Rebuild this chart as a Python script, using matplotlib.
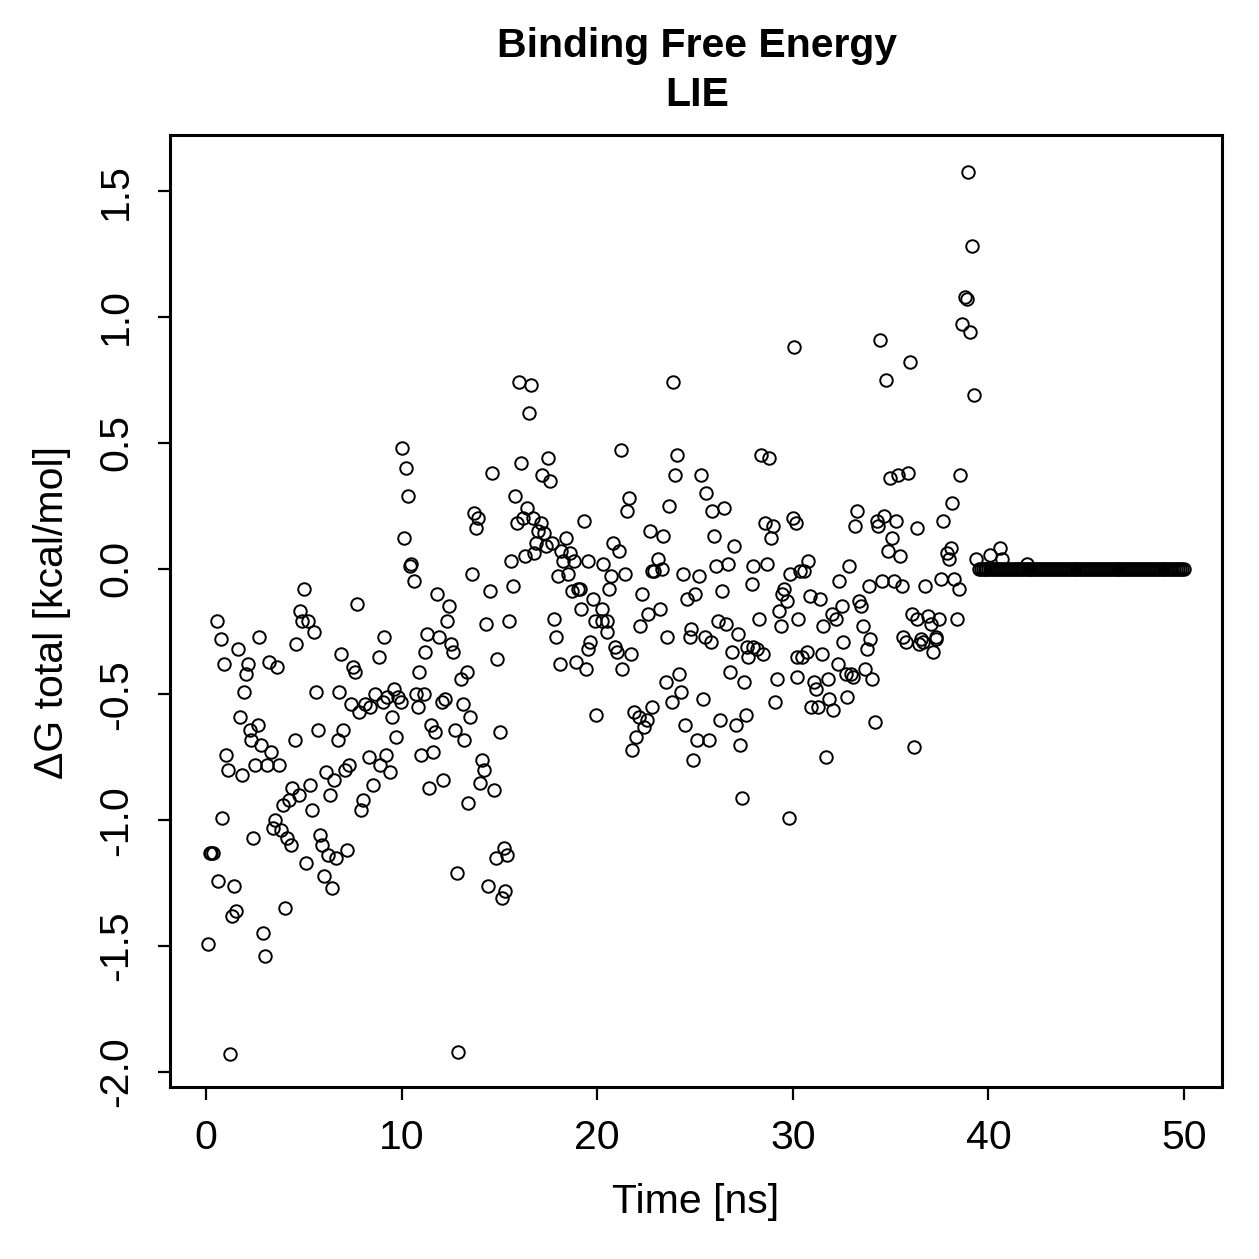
import matplotlib
matplotlib.use("Agg")
import matplotlib.pyplot as plt

plt.rcParams["font.family"] = ["Liberation Sans", "DejaVu Sans"]

# scattered part of the trajectory (time in ns, dG in kcal/mol)
time_ns = [
    0.10, 0.20, 0.28, 0.36, 0.55, 0.63, 0.75, 0.83, 0.94, 1.04,
    1.14, 1.24, 1.33, 1.43, 1.55, 1.64, 1.74, 1.83, 1.94, 2.03,
    2.13, 2.25, 2.32, 2.42, 2.52, 2.64, 2.72, 2.80, 2.93, 3.03,
    3.12, 3.22, 3.32, 3.43, 3.53, 3.65, 3.73, 3.82, 3.94, 4.02,
    4.13, 4.23, 4.33, 4.41, 4.53, 4.60, 4.74, 4.82, 4.91, 5.01,
    5.13, 5.21, 5.33, 5.43, 5.52, 5.62, 5.73, 5.83, 5.95, 6.03,
    6.12, 6.22, 6.32, 6.43, 6.53, 6.63, 6.73, 6.81, 6.92, 7.02,
    7.11, 7.22, 7.33, 7.43, 7.52, 7.60, 7.70, 7.84, 7.92, 8.03,
    8.13, 8.33, 8.40, 8.52, 8.64, 8.83, 8.91, 9.03, 9.12, 9.22,
    9.27, 9.42, 9.52, 9.61, 9.70, 9.83, 9.96, 10.02,
    10.11, 10.22, 10.31, 10.43, 10.48, 10.62, 10.74, 10.82, 10.90, 11.01,
    11.15, 11.21, 11.31, 11.42, 11.50, 11.62, 11.73, 11.81, 11.91, 12.05,
    12.12, 12.22, 12.31, 12.41, 12.53, 12.61, 12.71, 12.82, 12.88, 13.02,
    13.12, 13.21, 13.33, 13.41, 13.51, 13.60, 13.70, 13.80, 13.91, 14.01,
    14.11, 14.23, 14.31, 14.40, 14.50, 14.61, 14.72, 14.81, 14.89, 15.02,
    15.12, 15.22, 15.30, 15.40, 15.51, 15.61, 15.71, 15.80, 15.90, 15.99,
    16.10, 16.19, 16.29, 16.40, 16.50, 16.62, 16.70, 16.78, 16.86, 16.99,
    17.13, 17.19, 17.30, 17.40, 17.50, 17.60, 17.69, 17.79, 17.89, 18.00,
    18.10, 18.16, 18.25, 18.40, 18.51, 18.62, 18.70, 18.83, 18.90, 19.00,
    19.14, 19.19, 19.31, 19.41, 19.51, 19.55, 19.63, 19.79, 19.89, 19.92,
    20.23, 20.26, 20.30, 20.49, 20.52, 20.60, 20.71, 20.79, 20.91, 21.00,
    21.11, 21.20, 21.28, 21.41, 21.51, 21.61, 21.71, 21.79, 21.88, 22.00,
    22.12, 22.19, 22.29, 22.38, 22.53, 22.60, 22.70, 22.79, 22.79, 22.92,
    23.09, 23.20, 23.30, 23.38, 23.52, 23.58, 23.69, 23.81, 23.89, 23.99,
    24.08, 24.20, 24.30, 24.39, 24.50, 24.59, 24.73, 24.80, 24.88, 25.00,
    25.09, 25.19, 25.29, 25.39, 25.51, 25.58, 25.70, 25.80, 25.88, 25.99,
    26.09, 26.18, 26.29, 26.38, 26.48, 26.60, 26.70, 26.79, 26.88, 26.98,
    27.10, 27.20, 27.29, 27.39, 27.49, 27.59, 27.67, 27.69, 27.90, 27.98,
    27.98, 28.15, 28.29, 28.36, 28.46, 28.56, 28.68, 28.80, 28.89, 28.99,
    29.09, 29.19, 29.29, 29.38, 29.46, 29.55, 29.69, 29.79, 29.86, 29.99,
    30.06, 30.16, 30.20, 30.20, 30.28, 30.37, 30.49, 30.57, 30.71, 30.79,
    30.88, 30.92, 31.08, 31.19, 31.30, 31.39, 31.48, 31.56, 31.68, 31.78,
    31.87, 31.99, 32.07, 32.19, 32.30, 32.38, 32.50, 32.58, 32.70, 32.77,
    32.87, 32.96, 33.09, 33.16, 33.28, 33.38, 33.49, 33.57, 33.68, 33.78,
    33.88, 33.96, 34.06, 34.19, 34.29, 34.37, 34.47, 34.58, 34.68, 34.78,
    34.87, 34.95, 35.07, 35.19, 35.28, 35.38, 35.48, 35.58, 35.65, 35.77,
    35.89, 35.98, 36.08, 36.18, 36.33, 36.37, 36.46, 36.54, 36.64, 36.77,
    36.93, 37.07, 37.15, 37.31, 37.34, 37.47, 37.58, 37.66, 37.87, 37.99,
    38.09, 38.15, 38.26, 38.38, 38.48, 38.56, 38.65, 38.80, 38.89, 38.96,
    39.08, 39.16, 39.26, 39.37, 40.10, 40.59, 40.68, 41.96,
]
dg_total = [
    -1.49, -1.13, -1.13, -1.13, -0.21, -1.24, -0.28, -0.99, -0.38, -0.74,
    -0.80, -1.93, -1.38, -1.26, -1.36, -0.32, -0.59, -0.82, -0.49, -0.42,
    -0.38, -0.64, -0.68, -1.07, -0.78, -0.62, -0.27, -0.70, -1.45, -1.54,
    -0.78, -0.37, -0.73, -1.03, -1.00, -0.39, -0.78, -1.04, -0.94, -1.35,
    -1.07, -0.92, -1.10, -0.87, -0.68, -0.30, -0.90, -0.17, -0.21, -0.08,
    -1.17, -0.21, -0.86, -0.96, -0.25, -0.49, -0.64, -1.06, -1.10, -1.22,
    -0.81, -1.14, -0.90, -1.27, -0.84, -1.15, -0.68, -0.49, -0.34, -0.64,
    -0.80, -1.12, -0.78, -0.54, -0.39, -0.41, -0.14, -0.57, -0.96, -0.92,
    -0.54, -0.75, -0.55, -0.86, -0.50, -0.35, -0.78, -0.53, -0.27, -0.74,
    -0.51, -0.81, -0.59, -0.48, -0.67, -0.51, -0.53, 0.48,
    0.12, 0.40, 0.29, 0.01, 0.02, -0.05, -0.50, -0.55, -0.41, -0.74,
    -0.50, -0.33, -0.26, -0.87, -0.62, -0.73, -0.65, -0.10, -0.27, -0.53,
    -0.84, -0.52, -0.21, -0.15, -0.30, -0.33, -0.64, -1.21, -1.92, -0.44,
    -0.54, -0.68, -0.41, -0.93, -0.59, -0.02, 0.22, 0.16, 0.20, -0.85,
    -0.76, -0.80, -0.22, -1.26, -0.09, 0.38, -0.88, -1.15, -0.36, -0.65,
    -1.31, -1.11, -1.28, -1.14, -0.21, 0.03, -0.07, 0.29, 0.18, 0.74,
    0.42, 0.20, 0.05, 0.24, 0.62, 0.73, 0.20, 0.06, 0.10, 0.15,
    0.18, 0.37, 0.14, 0.09, 0.44, 0.35, 0.10, -0.20, -0.27, -0.03,
    -0.38, 0.07, 0.03, 0.12, -0.02, 0.06, -0.09, 0.03, -0.37, -0.08,
    -0.08, -0.16, 0.19, -0.40, 0.03, -0.32, -0.29, -0.12, -0.21, -0.58,
    -0.16, -0.21, 0.02, -0.21, -0.25, -0.08, -0.03, 0.10, -0.31, -0.33,
    0.07, 0.47, -0.40, -0.02, 0.23, 0.28, -0.34, -0.72, -0.57, -0.67,
    -0.59, -0.23, -0.10, -0.63, -0.60, -0.18, 0.15, -0.55, -0.01, -0.01,
    0.04, -0.16, 0.00, 0.13, -0.45, -0.27, 0.25, -0.53, 0.74, 0.37,
    0.45, -0.42, -0.49, -0.02, -0.62, -0.12, -0.27, -0.24, -0.76, -0.10,
    -0.68, -0.03, 0.37, -0.52, -0.27, 0.30, -0.68, -0.29, 0.23, 0.13,
    0.01, -0.21, -0.60, -0.09, 0.24, -0.22, 0.02, -0.41, -0.33, 0.09,
    -0.62, -0.26, -0.70, -0.91, -0.45, -0.58, -0.31, -0.35, -0.06, 0.01,
    -0.31, -0.32, -0.20, 0.45, -0.34, 0.18, 0.02, 0.44, 0.12, 0.17,
    -0.53, -0.44, -0.17, -0.23, -0.10, -0.08, -0.13, -0.99, -0.02, 0.20,
    0.88, 0.18, -0.35, -0.43, -0.20, -0.01, -0.35, -0.01, -0.33, 0.03,
    -0.11, -0.55, -0.45, -0.48, -0.55, -0.12, -0.34, -0.23, -0.75, -0.44,
    -0.52, -0.18, -0.56, -0.20, -0.38, -0.05, -0.15, -0.29, -0.42, -0.51,
    0.01, -0.42, -0.43, 0.17, 0.23, -0.13, -0.15, -0.23, -0.40, -0.32,
    -0.07, -0.28, -0.44, -0.61, 0.19, 0.17, 0.91, -0.05, 0.21, 0.75,
    0.07, 0.36, 0.12, -0.05, 0.19, 0.37, 0.05, -0.07, -0.27, -0.29,
    0.38, 0.82, -0.18, -0.71, -0.20, 0.16, -0.30, -0.28, -0.29, -0.07,
    -0.19, -0.22, -0.33, -0.28, -0.27, -0.20, -0.04, 0.19, 0.06, 0.04,
    0.08, 0.26, -0.04, -0.20, -0.08, 0.37, 0.97, 1.08, 1.07, 1.575,
    0.94, 1.28, 0.69, 0.04, 0.054, 0.08, 0.04, 0.02,
]

# flat tail at the end of the run
tail_time_ns = [
    39.5, 39.6, 39.7, 39.8, 39.9, 40.0, 40.1, 40.2, 40.3, 40.4,
    40.5, 40.6, 40.7, 40.8, 40.9, 41.0, 41.1, 41.2, 41.3, 41.4,
    41.5, 41.6, 41.7, 41.8, 41.9, 42.0, 42.1, 42.2, 42.3, 42.4,
    42.5, 42.6, 42.7, 42.8, 42.9, 43.0, 43.1, 43.2, 43.3, 43.4,
    43.5, 43.6, 43.7, 43.8, 43.9, 44.0, 44.1, 44.2, 44.3, 44.4,
    44.5, 44.6, 44.7, 44.8, 44.9, 45.0, 45.1, 45.2, 45.3, 45.4,
    45.5, 45.6, 45.7, 45.8, 45.9, 46.0, 46.1, 46.2, 46.3, 46.4,
    46.5, 46.6, 46.7, 46.8, 46.9, 47.0, 47.1, 47.2, 47.3, 47.4,
    47.5, 47.6, 47.7, 47.8, 47.9, 48.0, 48.1, 48.2, 48.3, 48.4,
    48.5, 48.6, 48.7, 48.8, 48.9, 49.0, 49.1, 49.2, 49.3, 49.4,
    49.5, 49.6, 49.7, 49.8, 49.9, 50.0,
]
tail_dg = [0.0] * len(tail_time_ns)

x_ticks = [0, 10, 20, 30, 40, 50]
y_ticks = [-2.0, -1.5, -1.0, -0.5, 0.0, 0.5, 1.0, 1.5]
y_tick_labels = ["-2.0", "-1.5", "-1.0", "-0.5", "0.0", "0.5", "1.0", "1.5"]

W = 1259
fig = plt.figure(figsize=(W / 100, W / 100), dpi=100)
ax = fig.add_axes([170 / W, 1 - 1087 / W, (1222 - 170) / W, (1087 - 135) / W])

marker_kw = dict(linestyle="none", marker="o", markersize=9.0,
                 markerfacecolor="none", markeredgecolor="black",
                 markeredgewidth=1.4)
ax.plot(time_ns, dg_total, **marker_kw)
ax.plot(tail_time_ns, tail_dg, **marker_kw)

ax.set_xlim(-1.84, 51.94)
ax.set_ylim(-2.06, 1.723)
ax.set_xticks(x_ticks)
ax.set_yticks(y_ticks)
ax.set_yticklabels(y_tick_labels, rotation=90, va="center")

fs = 29.5
for s in ax.spines.values():
    s.set_linewidth(2.2)
ax.tick_params(axis="both", direction="out", length=9, width=1.6,
               labelsize=fs, colors="black")
ax.tick_params(axis="x", pad=14)
ax.tick_params(axis="y", pad=16)

fig.text(697 / W, 1 - 46 / W, "Binding Free Energy", ha="center", va="center",
         fontsize=fs, fontweight="bold")
fig.text(697 / W, 1 - 95 / W, "LIE", ha="center", va="center",
         fontsize=fs, fontweight="bold")
fig.text(696 / W, 1 - 1202 / W, "Time [ns]", ha="center", va="center", fontsize=fs)
fig.text(52 / W, 1 - 612 / W, "ΔG total [kcal/mol]", ha="center", va="center",
         rotation=90, fontsize=fs)

fig.savefig("out.png", dpi=100)
